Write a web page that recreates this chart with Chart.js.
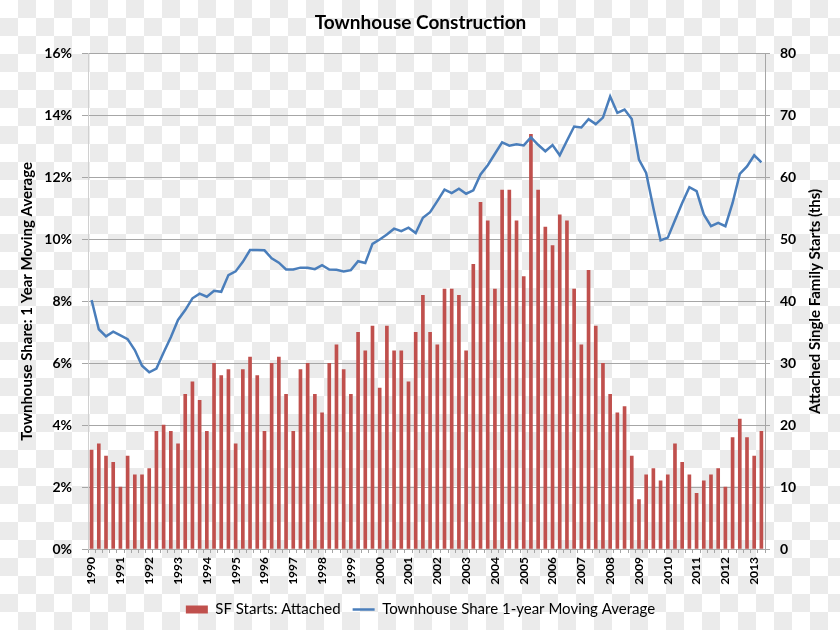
<!DOCTYPE html>
<html>
<head>
<meta charset="utf-8">
<script src="https://cdn.jsdelivr.net/npm/chart.js@4.4.1/dist/chart.umd.min.js"></script>
<style>
  html, body { margin: 0; padding: 0; }
  body {
    width: 840px; height: 630px;
    background-color: #ffffff;
    background-image: conic-gradient(#ebebeb 25%, #ffffff 0 50%, #ebebeb 0 75%, #ffffff 0);
    background-size: 36px 36px;
  }
  #wrap { width: 840px; height: 630px; }
</style>
</head>
<body>
<div id="wrap"><canvas id="townhouseChart" width="840" height="630"></canvas></div>
<script>
// Años del eje X (un rótulo por año, datos trimestrales)
const years = [1990, 1991, 1992, 1993, 1994, 1995, 1996, 1997, 1998, 1999, 2000, 2001,
               2002, 2003, 2004, 2005, 2006, 2007, 2008, 2009, 2010, 2011, 2012, 2013];
const quarters = ['Q1', 'Q2', 'Q3', 'Q4'];
const quarterCount = 94; // 1990 Q1 - 2013 Q2

// Inicios de viviendas unifamiliares adosadas (miles)
const sfStartsAttached = [
  16, 17, 15, 14, 10, 15, 12, 12, 13, 19, 20, 19, 17, 25, 27, 24, 19, 30, 28, 29, 17, 29, 31,
  28, 19, 30, 31, 25, 19, 29, 30, 25, 22, 30, 33, 29, 25, 35, 32, 36, 26, 36, 32, 32, 27, 35,
  41, 35, 33, 42, 42, 41, 32, 46, 56, 53, 42, 58, 58, 53, 44, 67, 58, 52, 49, 54, 53, 42, 33,
  45, 36, 30, 25, 22, 23, 15, 8, 12, 13, 11, 12, 17, 14, 12, 9, 11, 12, 13, 10, 18, 21, 18, 15, 19
];

// Cuota de townhouses, media móvil de 1 año (%)
const townhouseShare = [
  8.04, 7.10, 6.87, 7.02, 6.90, 6.78, 6.43, 5.92, 5.71, 5.83, 6.35, 6.84, 7.40, 7.72, 8.10, 8.25,
  8.15, 8.34, 8.31, 8.85, 8.97, 9.28, 9.66,
  9.66, 9.65, 9.39, 9.25, 9.03, 9.03, 9.09, 9.09, 9.04, 9.17, 9.03, 9.02, 8.97, 9.01, 9.30, 9.24,
  9.86, 10.00, 10.16, 10.35, 10.27, 10.38, 10.21,
  10.70, 10.88, 11.24, 11.61, 11.50, 11.64, 11.48, 11.59, 12.10, 12.40, 12.77, 13.14, 13.03,
  13.08, 13.04, 13.30, 13.06, 12.85, 13.05, 12.72, 13.19, 13.65, 13.62,
  13.89, 13.73, 13.94, 14.62, 14.09, 14.20, 13.89, 12.58, 12.15, 11.02, 9.97, 10.06, 10.62,
  11.18, 11.69, 11.56, 10.81, 10.43, 10.54, 10.43, 11.18, 12.12, 12.36, 12.72, 12.49
];

// Etiquetas trimestrales construidas a partir de los años
const labels = years.flatMap(y => quarters.map(q => y + ' ' + q)).slice(0, quarterCount);

const fontFamily = 'Lato, "Open Sans", sans-serif';
const gridColor = '#a6a6a6';
const rightTitle = 'Attached Single Family Starts (ths)';

// Título del eje derecho, leído de abajo arriba como en el original
const rightTitlePlugin = {
    id: 'rightTitle',
    afterDraw(chart) {
        const c = chart.ctx;
        const area = chart.chartArea;
        c.save();
        c.translate(chart.scales.yRight.right - 17, (area.top + area.bottom) / 2);
        c.rotate(-Math.PI / 2);
        c.fillStyle = '#000';
        c.font = 'bold 15px ' + fontFamily;
        c.textAlign = 'center';
        c.textBaseline = 'middle';
        c.fillText(rightTitle, 0, 0);
        c.restore();
    }
};

const renderChart = () => {
    const ctx = document.getElementById('townhouseChart').getContext('2d');

    const data = {
        labels: labels,
        datasets: [{
            type: 'bar',
            label: 'SF Starts: Attached',
            data: sfStartsAttached,
            yAxisID: 'yRight',
            backgroundColor: '#c0504d',
            borderWidth: 0,
            barThickness: 3,
            pointStyle: 'rect',
            order: 2
        }, {
            type: 'line',
            label: 'Townhouse Share 1-year Moving Average',
            data: townhouseShare,
            yAxisID: 'yLeft',
            borderColor: '#4a7ebb',
            backgroundColor: '#4a7ebb',
            borderWidth: 2.5,
            pointRadius: 0,
            pointStyle: 'line',
            tension: 0,
            order: 1
        }]
    };

    const options = {
        responsive: false,
        animation: false,
        layout: { padding: { left: 9, right: 8, top: 0, bottom: 3 } },
        scales: {
            x: {
                offset: true,
                grid: {
                    offset: true,
                    drawOnChartArea: false,
                    drawTicks: true,
                    tickLength: 4,
                    color: gridColor
                },
                border: { display: true, color: gridColor },
                ticks: {
                    autoSkip: false,
                    minRotation: 90,
                    maxRotation: 90,
                    padding: 4,
                    color: '#000',
                    font: { family: fontFamily, size: 12, weight: 'bold' },
                    callback: function (value, index) {
                        return index % 4 === 0 ? years[index / 4] : '';
                    }
                },
                afterFit: scale => { scale.height = 41; }
            },
            yLeft: {
                position: 'left',
                min: 0,
                max: 16,
                ticks: {
                    stepSize: 2,
                    padding: 10,
                    color: '#000',
                    font: { family: fontFamily, size: 14, weight: 'bold' },
                    callback: v => v + '%'
                },
                grid: { color: gridColor, tickLength: 6 },
                border: { display: true, color: '#d0d0d0' },
                title: {
                    display: true,
                    text: 'Townhouse Share: 1 Year Moving Average',
                    color: '#000',
                    font: { family: fontFamily, size: 15, weight: 'bold' },
                    padding: { top: 9, bottom: 0 }
                },
                afterFit: scale => { scale.width = 79; }
            },
            yRight: {
                position: 'right',
                min: 0,
                max: 80,
                ticks: {
                    stepSize: 10,
                    padding: 10,
                    color: '#000',
                    font: { family: fontFamily, size: 14, weight: 'bold' }
                },
                grid: { drawOnChartArea: false, color: gridColor, tickLength: 5 },
                border: { display: true, color: gridColor },
                afterFit: scale => { scale.width = 67; }
            }
        },
        plugins: {
            title: {
                display: true,
                text: 'Townhouse Construction',
                color: '#000',
                font: { family: fontFamily, size: 19, weight: 'bold' },
                padding: { top: 11, bottom: 20 }
            },
            legend: {
                display: true,
                position: 'bottom',
                labels: {
                    usePointStyle: true,
                    pointStyleWidth: 22,
                    boxHeight: 8,
                    padding: 12,
                    color: '#000',
                    font: { family: fontFamily, size: 15 },
                    sort: (a, b) => a.datasetIndex - b.datasetIndex
                }
            },
            tooltip: { enabled: false }
        }
    };

    new Chart(ctx, {
        type: 'bar',
        data: data,
        options: options,
        plugins: [rightTitlePlugin]
    });
};

renderChart();
</script>
</body>
</html>
